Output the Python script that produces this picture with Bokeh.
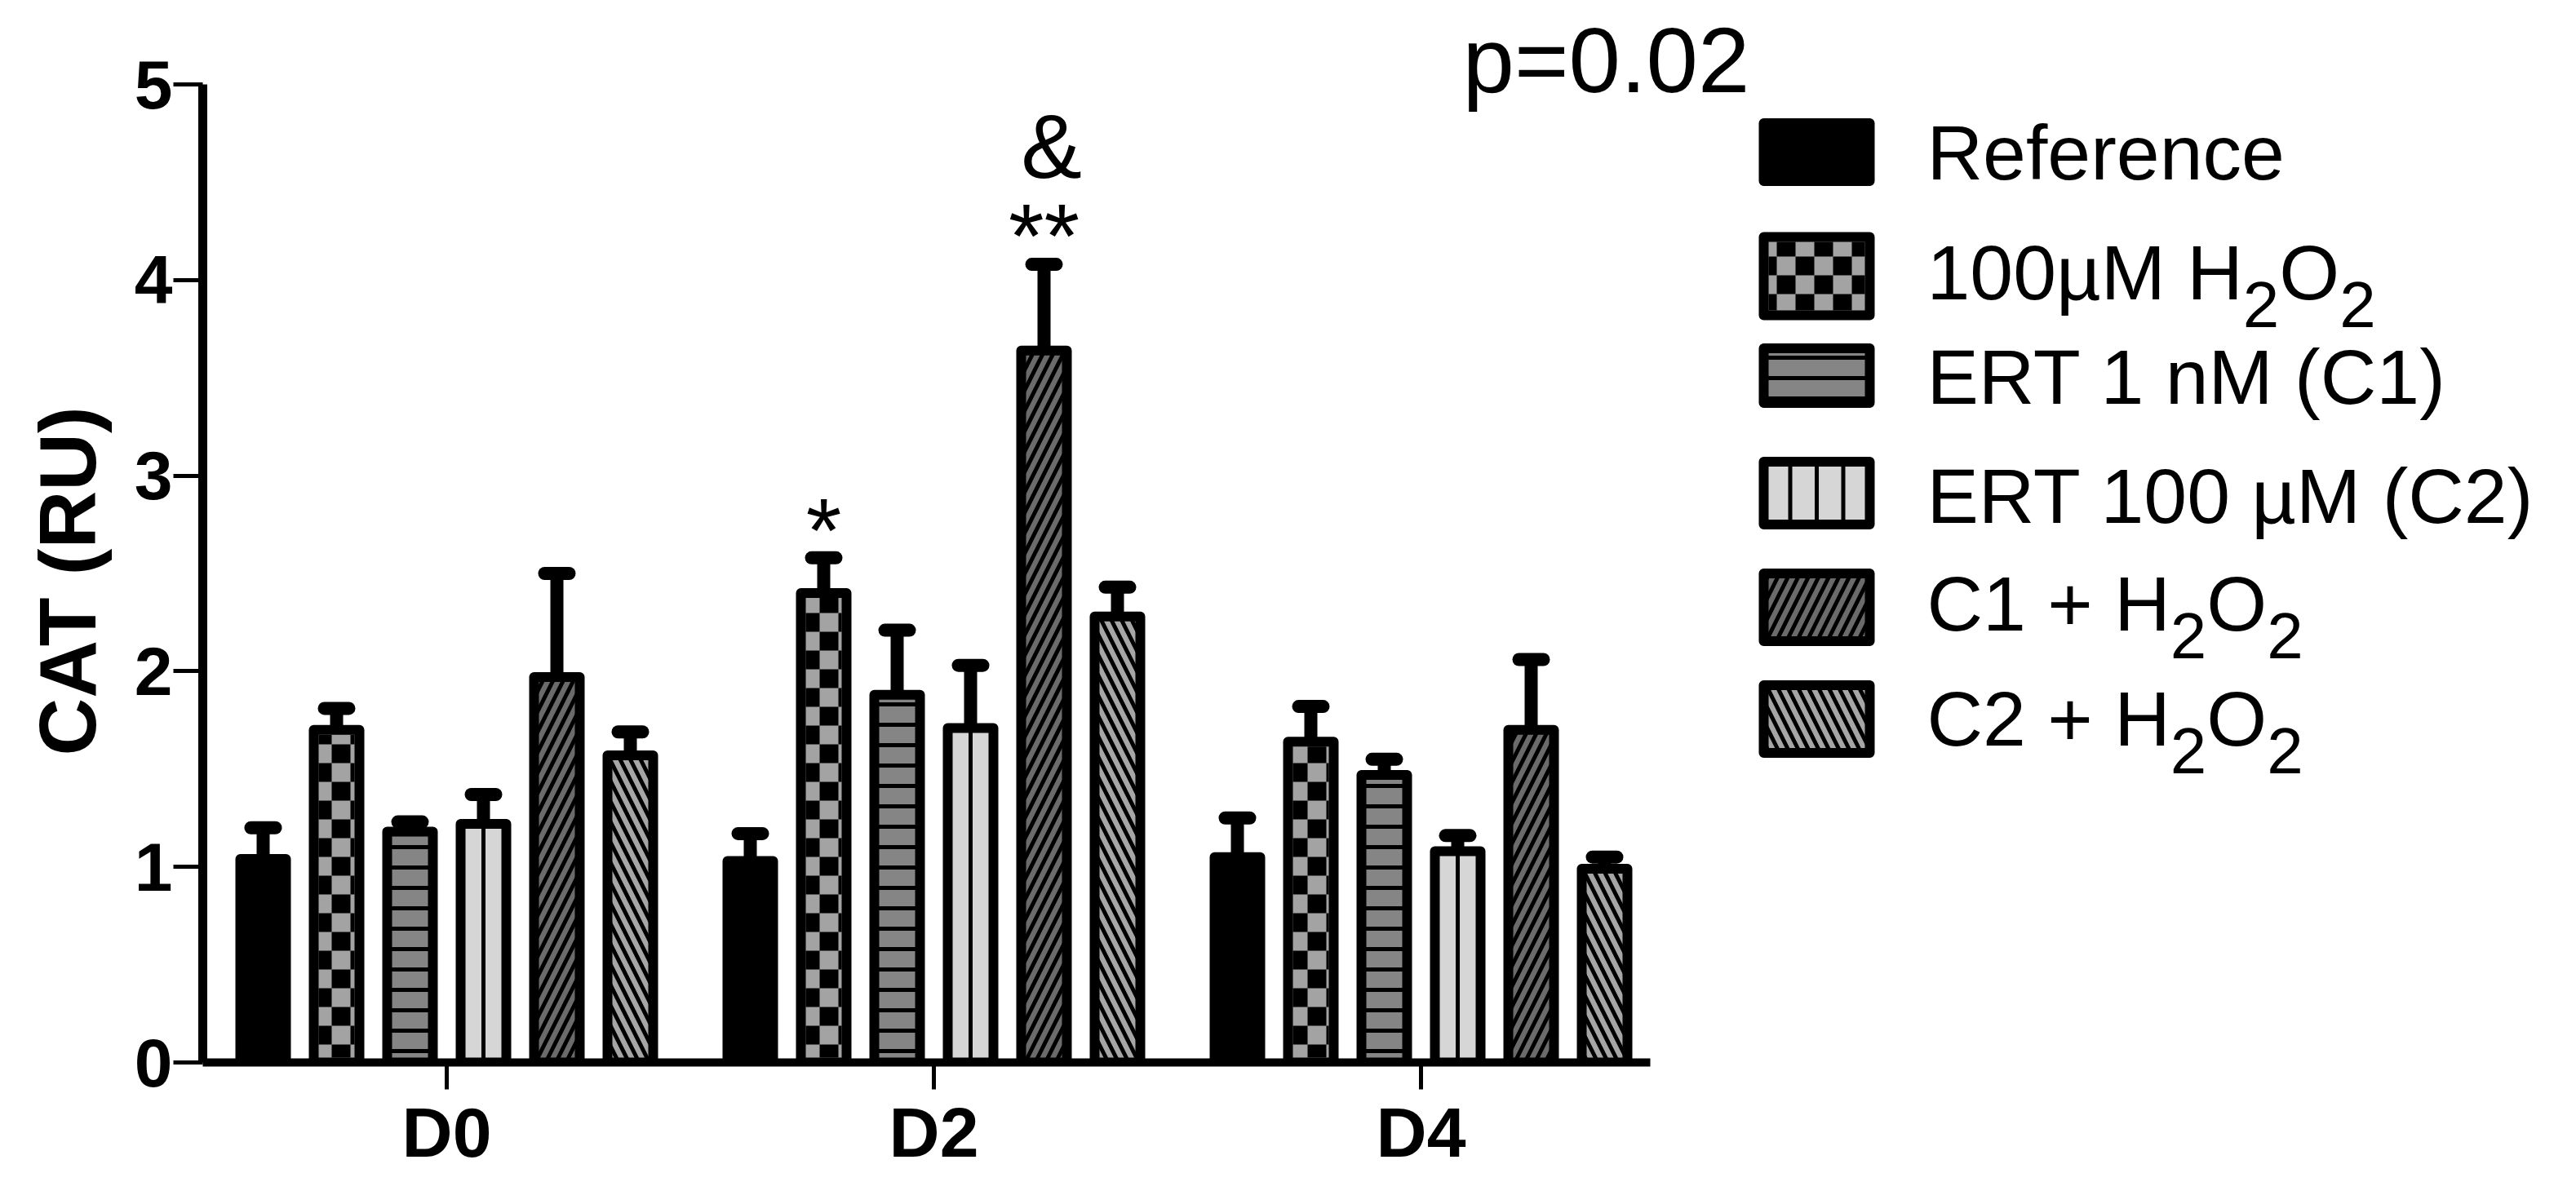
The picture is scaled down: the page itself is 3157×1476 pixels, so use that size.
import math
from bokeh.plotting import figure
from bokeh.models import Range1d, FixedTicker, Label, Title
from bokeh.embed import file_html
from bokeh.resources import INLINE

# ---------------- data ----------------
groups = ["D0", "D2", "D4"]
series_names = ["Reference", "100µM H2O2", "ERT 1 nM (C1)", "ERT 100 µM (C2)", "C1 + H2O2", "C2 + H2O2"]
reference_mean = [1.04, 1.03, 1.05]
reference_sem = [0.16, 0.14, 0.20]
h2o2_mean = [1.70, 2.40, 1.64]
h2o2_sem = [0.11, 0.18, 0.18]
ert1_mean = [1.18, 1.88, 1.47]
ert1_sem = [0.05, 0.33, 0.08]
ert100_mean = [1.22, 1.71, 1.08]
ert100_sem = [0.15, 0.32, 0.08]
c1h_mean = [1.97, 3.64, 1.70]
c1h_sem = [0.53, 0.44, 0.36]
c2h_mean = [1.57, 2.28, 0.99]
c2h_sem = [0.12, 0.15, 0.06]
y_ticks = [0, 1, 2, 3, 4, 5]
y_label = "CAT (RU)"
p_value_text = "p=0.02"
# significance marks: (text, series index, group index)
marks = [("*", 1, 1), ("**", 4, 1), ("&", 4, 1)]

means = [reference_mean, h2o2_mean, ert1_mean, ert100_mean, c1h_mean, c2h_mean]
sems = [reference_sem, h2o2_sem, ert1_sem, ert100_sem, c1h_sem, c2h_sem]

# ---------------- layout (pixels of the reference picture) ----------------
FIG_W, FIG_H = 3141, 1460
PAGE = 8
AX_X_REF = 256      # y axis line
AX_Y_REF = 1310     # x axis line (y = 0)
GROUP_X0_REF = 555  # D0 tick
PX_PER_GROUP = 597
PX_PER_UNIT = 239.8
B_LEFT = AX_X_REF - PAGE
B_BOTTOM = FIG_H - (AX_Y_REF - PAGE)
B_TOP = 10
B_RIGHT = 10


def rx(px):
    return (px - GROUP_X0_REF) / PX_PER_GROUP


def ry(py):
    return (AX_Y_REF - py) / PX_PER_UNIT


def px_of_x(x):
    return GROUP_X0_REF + x * PX_PER_GROUP


def py_of_y(y):
    return AX_Y_REF - y * PX_PER_UNIT


STEP = 90 / PX_PER_GROUP
BAR_W_PX = 56
BAR_W = BAR_W_PX / PX_PER_GROUP
OUTLINE = 12
CAP_HALF = 15 / PX_PER_GROUP
FONT = "Liberation Sans"
CELL = 23

p = figure(width=FIG_W, height=FIG_H,
           x_range=Range1d(rx(AX_X_REF), rx(FIG_W + PAGE - B_RIGHT)),
           y_range=Range1d(0, ry(PAGE + B_TOP)),
           output_backend="svg", toolbar_location=None,
           min_border_left=B_LEFT, min_border_bottom=B_BOTTOM,
           min_border_top=B_TOP, min_border_right=B_RIGHT)
p.outline_line_color = None
p.xgrid.visible = False
p.ygrid.visible = False
p.background_fill_color = "white"
p.border_fill_color = "white"

# axes
yax = p.yaxis[0]
yax.ticker = FixedTicker(ticks=y_ticks)
yax.bounds = (0, y_ticks[-1])
yax.axis_line_width = 11
yax.axis_line_color = "black"
yax.major_tick_line_width = 5
yax.major_tick_line_color = "black"
yax.major_tick_out = 36
yax.major_tick_in = 0
yax.minor_tick_line_color = None
yax.major_label_standoff = 1
yax.major_label_text_font = FONT
yax.major_label_text_font_style = "bold"
yax.major_label_text_font_size = "84px"
yax.major_label_text_color = "black"

xax = p.xaxis[0]
xax.ticker = FixedTicker(ticks=list(range(len(groups))))
xax.major_label_overrides = {i: g for i, g in enumerate(groups)}
xax.bounds = (rx(AX_X_REF - 6), rx(2030))
xax.axis_line_width = 10
xax.axis_line_color = "black"
xax.major_tick_line_width = 5
xax.major_tick_line_color = "black"
xax.major_tick_out = 33
xax.major_tick_in = 0
xax.minor_tick_line_color = None
xax.major_label_standoff = 4
xax.major_label_text_font = FONT
xax.major_label_text_font_style = "bold"
xax.major_label_text_font_size = "86px"
xax.major_label_text_color = "black"

# y axis title (left side panel)
p.add_layout(Title(text=y_label, align="left", offset=AX_Y_REF - 934, text_font=FONT,
                   text_font_size="98px", text_font_style="bold", text_color="black",
                   standoff=48), "left")

styles = [
    dict(fill_color="black"),
    dict(fill_color="#a3a3a3"),
    dict(fill_color="#858585", hatch_pattern="-", hatch_color="black", hatch_weight=5, hatch_scale=25),
    dict(fill_color="#d6d6d6"),
    dict(fill_color="#6b6b6b", hatch_pattern="/", hatch_color="black", hatch_weight=5, hatch_scale=25),
    dict(fill_color="#a6a6a6", hatch_pattern="\\", hatch_color="black", hatch_weight=5, hatch_scale=25),
]
centre_line = [False, False, False, True, False, False]
checker = [False, True, False, False, False, False]


def checker_cells(l, r, t, b):
    """black squares of a checkerboard filling the pixel box l..r, t..b"""
    L, R, T, B = [], [], [], []
    for ci in range(math.floor(l / CELL), math.ceil(r / CELL)):
        for ri in range(math.floor(t / CELL), math.ceil(b / CELL)):
            if (ci + ri) % 2:
                continue
            x0, x1 = max(l, ci * CELL), min(r, (ci + 1) * CELL)
            y0, y1 = max(t, ri * CELL), min(b, (ri + 1) * CELL)
            if x1 > x0 and y1 > y0:
                L.append(rx(x0)); R.append(rx(x1)); T.append(ry(y0)); B.append(ry(y1))
    return L, R, T, B


# error bars first (behind bars)
for i in range(len(series_names)):
    xs = [g + (i - 2.5) * STEP for g in range(len(groups))]
    tops = [m + s for m, s in zip(means[i], sems[i])]
    p.segment(x0=xs, y0=means[i], x1=xs, y1=tops, line_color="black", line_width=16)
    p.segment(x0=[x - CAP_HALF for x in xs], y0=tops, x1=[x + CAP_HALF for x in xs], y1=tops,
              line_color="black", line_width=16, line_cap="round")

# bars
for i in range(len(series_names)):
    xs = [g + (i - 2.5) * STEP for g in range(len(groups))]
    p.vbar(x=xs, top=means[i], bottom=0, width=BAR_W, line_color="black", line_width=OUTLINE,
           line_join="round", **styles[i])
    if centre_line[i]:
        p.segment(x0=xs, y0=[0] * len(xs), x1=xs, y1=means[i], line_color="black", line_width=5)
    if checker[i]:
        L, R, T, B = [], [], [], []
        inner = BAR_W_PX / 2 - OUTLINE / 2
        for x, m in zip(xs, means[i]):
            cl, cr, ct, cb = checker_cells(px_of_x(x) - inner, px_of_x(x) + inner,
                                           py_of_y(m) + OUTLINE / 2, AX_Y_REF - OUTLINE / 2)
            L += cl; R += cr; T += ct; B += cb
        p.quad(left=L, right=R, top=T, bottom=B, fill_color="black", line_color=None)

# significance marks
mark_pos = {"*": (697 - 39, "alphabetic", 0), "**": (336 - 39, "alphabetic", 0), "&": (187, "middle", 9)}
for txt, si, gi in marks:
    py, base, dx = mark_pos[txt]
    x = gi + (si - 2.5) * STEP + dx / PX_PER_GROUP
    p.add_layout(Label(x=x, y=ry(py), text=txt, text_font=FONT,
                       text_font_size="112px", text_color="black",
                       text_align="center", text_baseline=base))

# p value
p.add_layout(Label(x=rx(1800), y=ry(81), text=p_value_text, text_font=FONT,
                   text_font_size="114px", text_color="black",
                   text_align="left", text_baseline="middle"))

# ---------------- legend ----------------
SW_L, SW_R = 2169, 2299
sw_centres = [194, 346, 468, 612, 752, 889]
sw_heights = [71, 96, 67, 77, 83, 83]
txt_mid = [194, 341, 469, 615, 747, 888]
TXT_X = 2369
LEG_FS = 95
SUB_FS = 80
SUB_DROP = 40
ARIAL_W = {' ': .278, 'µ': .576, 'M': .833, 'H': .722, 'O': .778, 'C': .722, '+': .584,
           'R': .722, 'E': .667, 'T': .611, 'n': .556, '(': .333, ')': .333, 'e': .556,
           'f': .278, 'r': .333, 'c': .5}


def text_w(s, size):
    return sum(ARIAL_W.get(c, .556) for c in s) * size


def split_parts(name):
    if "H2O2" in name:
        pre = name.split("H2O2")[0]
        return [(pre + "H", False), ("2", True), ("O", False), ("2", True)]
    return [(name, False)]


for i, name in enumerate(series_names):
    t_px = sw_centres[i] - sw_heights[i] / 2
    b_px = sw_centres[i] + sw_heights[i] / 2
    top, bot = ry(t_px), ry(b_px)
    p.quad(left=[rx(SW_L)], right=[rx(SW_R)], top=[top], bottom=[bot],
           line_color="black", line_width=OUTLINE, line_join="round", **styles[i])
    if centre_line[i]:
        lx = [rx(SW_L + (SW_R - SW_L) * k / 4) for k in (1, 2, 3)]
        p.segment(x0=lx, y0=[bot] * 3, x1=lx, y1=[top] * 3, line_color="black", line_width=5)
    if checker[i]:
        L, R, T, B = checker_cells(SW_L + OUTLINE / 2, SW_R - OUTLINE / 2,
                                   t_px + OUTLINE / 2, b_px - OUTLINE / 2)
        p.quad(left=L, right=R, top=T, bottom=B, fill_color="black", line_color=None)
    x = TXT_X
    for txt, sub in split_parts(name):
        fs = SUB_FS if sub else LEG_FS
        my = txt_mid[i] + (SUB_DROP if sub else 0)
        p.add_layout(Label(x=rx(x), y=ry(my), text=txt, text_font=FONT,
                           text_font_size=f"{fs}px", text_color="black",
                           text_align="left", text_baseline="middle"))
        x += text_w(txt, fs)

open("out.html", "w").write(file_html(p, INLINE))
